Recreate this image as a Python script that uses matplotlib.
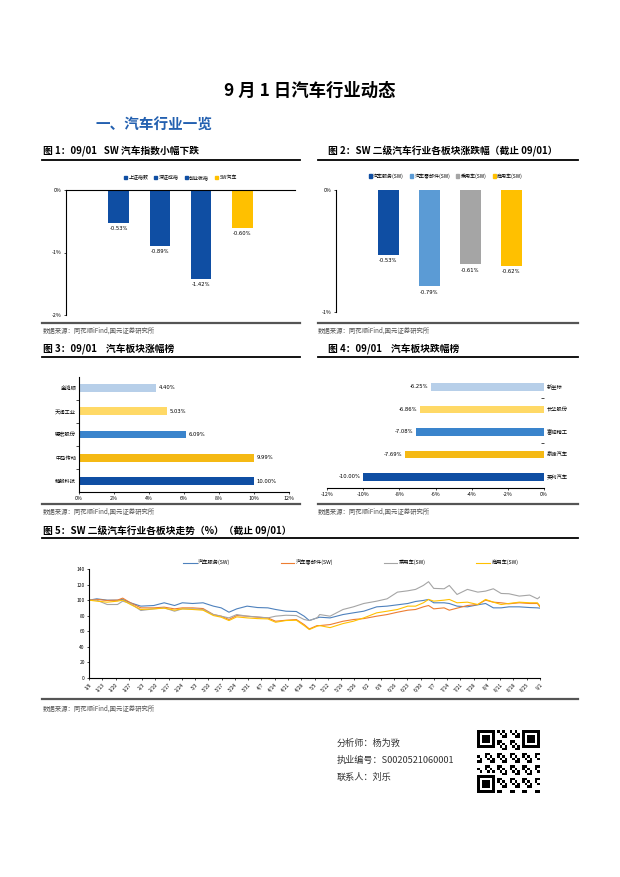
import matplotlib

matplotlib.use("Agg")
import matplotlib.pyplot as plt
import numpy as np
from matplotlib.lines import Line2D
from matplotlib.patches import Rectangle

plt.rcParams["font.family"] = ["Noto Sans CJK SC", "DejaVu Sans"]
plt.rcParams["axes.unicode_minus"] = False

W, H = 620, 877

# fig 1: SW auto index vs broad market (daily change, %)
idx_names = ["上证指数", "深证成指", "创业板指", "SW汽车"]
idx_change = [-0.53, -0.89, -1.42, -0.60]

# fig 2: SW level-2 auto sub-sectors (daily change, %)
sub_names = ["汽车服务(SW)", "汽车零部件(SW)", "乘用车(SW)", "商用车(SW)"]
sub_change = [-0.53, -0.79, -0.61, -0.62]

# fig 3 / fig 4: top gainers and losers (bottom to top)
gain_names = ["精锻科技", "中马传动", "德宏股份", "天润工业", "金鸿顺"]
gain_pct = [10.00, 9.99, 6.09, 5.03, 4.40]
lose_names = ["英利汽车", "泉峰汽车", "富临精工", "长华股份", "新坐标"]
lose_pct = [-10.00, -7.69, -7.08, -6.86, -6.25]

# fig 5: sub-sector trend, rebased to 100 (trading-day index)
trend_days = [0, 3, 7, 11, 13, 16, 20, 25, 29, 33, 36, 40, 44, 48, 51, 54, 57, 61, 65, 69,
              72, 76, 80, 83, 85, 88, 89, 93, 98, 102, 106, 111, 115, 119, 123, 126, 129,
              131, 133, 137, 139, 142, 146, 150, 153, 156, 159, 162, 166, 170, 173, 174]
trend_service = [100, 101.7, 100, 100, 100.9, 96.6, 92.3, 93.1, 96.6, 93.1, 96.6, 95.7, 96.6,
                 92.3, 90.1, 84.5, 88.8, 92.3, 90.5, 90.1, 88.0, 85.8, 85.4, 79.4, 73.8, 77.2,
                 78.1, 77.2, 81.5, 83.7, 85.8, 91.4, 92.3, 94.0, 95.7, 98.3, 99.6, 100.9, 96.6,
                 96.6, 95.7, 92.3, 91.4, 94.0, 95.7, 90.1, 90.1, 91.4, 91.4, 90.5, 90.1, 89.7]
trend_parts = [100, 100.9, 99.6, 100, 102.6, 96.6, 90.1, 90.1, 91.0, 88.8, 90.1, 90.1, 89.2,
               81.5, 79.4, 75.1, 80.2, 79.4, 78.1, 77.2, 72.9, 74.2, 75.1, 68.6, 63.0, 67.3,
               67.3, 68.6, 72.9, 75.1, 76.3, 79.4, 81.5, 84.5, 87.1, 88.0, 91.4, 93.1, 88.8,
               90.1, 87.1, 89.7, 93.1, 94.4, 100, 97.4, 96.6, 95.3, 96.6, 95.7, 95.7, 91.4]
trend_car = [100, 100, 94.4, 94.4, 98.7, 95.7, 86.7, 88.8, 90.1, 85.8, 88.8, 88.8, 88.0,
             81.5, 79.4, 77.2, 81.5, 79.4, 78.5, 77.2, 79.4, 80.6, 80.2, 75.1, 73.8, 77.2,
             81.5, 79.4, 88.0, 91.4, 95.7, 98.7, 101.7, 110.3, 112.0, 113.8, 118.9, 123.7, 115.1,
             114.6, 118.9, 107.3, 113.8, 110.3, 111.6, 114.6, 108.6, 108.2, 105.2, 106.5, 101.7, 104.3]
trend_truck = [100, 98.7, 97.4, 98.7, 100, 94.4, 88.0, 88.8, 89.7, 87.1, 88.8, 88.0, 87.1,
               80.2, 78.1, 73.8, 78.5, 77.2, 76.3, 75.9, 71.6, 73.8, 74.2, 67.3, 62.2, 66.5,
               67.3, 64.7, 69.9, 72.9, 77.2, 83.7, 85.8, 88.0, 92.3, 92.3, 96.6, 100.9, 98.7,
               100, 100.9, 96.6, 97.4, 94.4, 100.9, 97.4, 94.4, 95.7, 97.4, 96.6, 96.6, 92.3]
trend_ticks = ["1/6", "1/13", "1/20", "1/27", "2/3", "2/10", "2/17", "2/24", "3/3", "3/10",
               "3/17", "3/24", "3/31", "4/7", "4/14", "4/21", "4/28", "5/5", "5/12", "5/19",
               "5/26", "6/2", "6/9", "6/16", "6/23", "6/30", "7/7", "7/14", "7/21", "7/28",
               "8/4", "8/11", "8/18", "8/25", "9/1"]

SOURCE = "数据来源：同花顺iFind,国元证券研究所"
NUM_FONT = ["DejaVu Sans"]


def box(x0, y0, x1, y1):
    return [x0 / W, 1 - y1 / H, (x1 - x0) / W, (y1 - y0) / H]


def ftext(x, y, s, **kw):
    fig.text(x / W, 1 - y / H, s, **kw)


def hline(x0, x1, y, lw, color):
    fig.add_artist(Line2D([x0 / W, x1 / W], [1 - y / H, 1 - y / H], lw=lw, color=color))


fig = plt.figure(figsize=(W / 100, H / 100), dpi=100)

# page headings
ftext(310, 91, "9 月 1 日汽车行业动态", ha="center", va="center", fontsize=12.5, fontweight="bold")
ftext(95, 125, "一、汽车行业一览", ha="left", va="center", fontsize=10.5, fontweight="bold",
      color="#2360b0")

cap = dict(ha="left", va="center", fontsize=7, fontweight="bold")
src = dict(ha="left", va="center", fontsize=4.6, color="#555555")
ftext(43, 151, "图 1：09/01   SW 汽车指数小幅下跌", **cap)
ftext(328, 151, "图 2：SW 二级汽车行业各板块涨跌幅（截止 09/01）", **cap)
ftext(43, 349, "图 3：09/01    汽车板块涨幅榜", **cap)
ftext(328, 349, "图 4：09/01    汽车板块跌幅榜", **cap)
ftext(43, 531, "图 5：SW 二级汽车行业各板块走势（%）（截止 09/01）", **cap)
for y, xs in ((160, ((42, 300), (318, 578))), (357, ((42, 300), (318, 578))), (538, ((42, 578),))):
    for x0, x1 in xs:
        hline(x0, x1, y, 1.3, "black")
for y, xs in ((323, ((42, 300), (318, 578))), (504, ((42, 300), (318, 578))), (699, ((42, 578),))):
    for x0, x1 in xs:
        hline(x0, x1, y, 1.6, "#555555")
ftext(43, 331, SOURCE, **src)
ftext(318, 331, SOURCE, **src)
ftext(43, 512, SOURCE, **src)
ftext(318, 512, SOURCE, **src)
ftext(43, 709, SOURCE, **src)

tick_kw = dict(labelsize=3.8, length=1.5, width=0.5, pad=1.5)

# fig 1
ax1 = fig.add_axes(box(66, 190, 295, 315))
c1 = ["#0f4ea3", "#0f4ea3", "#0f4ea3", "#ffc000"]
x1 = np.arange(len(idx_names))
ax1.bar(x1, idx_change, width=0.51, color=c1)
for i, v in enumerate(idx_change):
    ax1.text(i, v - 0.05, f"{v:.2f}%", ha="center", va="top", fontsize=3.8, family=NUM_FONT)
ax1.set_xlim(-1.29, 4.29)
ax1.set_ylim(-2, 0)
ax1.set_yticks([0, -1, -2])
ax1.set_yticklabels(["0%", "-1%", "-2%"])
ax1.set_xticks([])
ax1.tick_params(**tick_kw)
for s in ("right", "bottom"):
    ax1.spines[s].set_visible(False)
for s in ("left", "top"):
    ax1.spines[s].set_linewidth(0.8)
h1 = [Rectangle((0, 0), 1, 1, color=c) for c in c1]
ax1.legend(h1, idx_names, loc="center", bbox_to_anchor=(0.5, 1.1), ncol=4, frameon=False,
           fontsize=3.6, handlelength=0.6, handleheight=0.6, handletextpad=0.3, columnspacing=1.2)

# fig 2
ax2 = fig.add_axes(box(336, 190, 580, 312))
c2 = ["#0f4ea3", "#5b9bd5", "#a5a5a5", "#ffc000"]
x2 = np.arange(len(sub_names))
ax2.bar(x2, sub_change, width=0.51, color=c2)
for i, v in enumerate(sub_change):
    ax2.text(i, v - 0.03, f"{v:.2f}%", ha="center", va="top", fontsize=3.8, family=NUM_FONT)
ax2.set_xlim(-1.27, 4.68)
ax2.set_ylim(-1, 0)
ax2.set_yticks([0, -1])
ax2.set_yticklabels(["0%", "-1%"])
ax2.set_xticks([])
ax2.tick_params(**tick_kw)
for s in ("right", "bottom", "top"):
    ax2.spines[s].set_visible(False)
ax2.spines["left"].set_linewidth(0.8)
h2 = [Rectangle((0, 0), 1, 1, color=c) for c in c2]
ax2.legend(h2, sub_names, loc="center", bbox_to_anchor=(0.45, 1.115), ncol=4, frameon=False,
           fontsize=3.6, handlelength=0.6, handleheight=0.6, handletextpad=0.3, columnspacing=1.2)

# fig 3 / fig 4 colours (bottom to top)
c34 = ["#0f4ea3", "#f5b914", "#3a84cc", "#ffd966", "#b7cfe9"]

ax3 = fig.add_axes(box(79, 377, 289, 492))
y3 = np.arange(len(gain_names))
ax3.barh(y3, gain_pct, height=0.32, color=c34)
for i, v in enumerate(gain_pct):
    ax3.text(v + 0.15, i, f"{v:.2f}%", ha="left", va="center", fontsize=3.8, family=NUM_FONT)
ax3.set_xlim(0, 12)
ax3.set_ylim(-0.47, 4.47)
ax3.set_xticks(range(0, 13, 2))
ax3.set_xticklabels([f"{t}%" for t in range(0, 13, 2)])
ax3.set_yticks(y3)
ax3.set_yticklabels(gain_names)
ax3.set_yticks(np.arange(0.5, 4.0, 1.0), minor=True)
ax3.tick_params(axis="y", which="major", length=0, labelsize=3.8, pad=2)
ax3.tick_params(axis="y", which="minor", length=2, width=0.5)
ax3.tick_params(axis="x", **tick_kw)
for s in ("right", "top"):
    ax3.spines[s].set_visible(False)
for s in ("left", "bottom"):
    ax3.spines[s].set_linewidth(0.8)

ax4 = fig.add_axes(box(327, 377, 544, 488))
y4 = np.arange(len(lose_names))
ax4.barh(y4, lose_pct, height=0.34, color=c34)
for i, v in enumerate(lose_pct):
    ax4.text(v - 0.15, i, f"{v:.2f}%", ha="right", va="center", fontsize=3.8, family=NUM_FONT)
ax4.set_xlim(-12, 0)
ax4.set_ylim(-0.49, 4.44)
ax4.set_xticks(range(-12, 1, 2))
ax4.set_xticklabels([f"{t}%" for t in range(-12, 1, 2)])
ax4.yaxis.tick_right()
ax4.set_yticks(y4)
ax4.set_yticklabels(lose_names)
ax4.set_yticks([1.5, 3.5], minor=True)
ax4.tick_params(axis="y", which="major", length=0, labelsize=3.8, pad=2)
ax4.tick_params(axis="y", which="minor", length=2, width=0.5, direction="in")
ax4.tick_params(axis="x", **tick_kw)
for s in ("right", "top", "left"):
    ax4.spines[s].set_visible(False)
ax4.spines["bottom"].set_linewidth(0.8)

# fig 5
ax5 = fig.add_axes(box(89, 569, 540, 678))
series = [(trend_service, "#4e81bd", "汽车服务(SW)"), (trend_parts, "#ed7d31", "汽车零部件(SW)"),
          (trend_car, "#a5a5a5", "乘用车(SW)"), (trend_truck, "#ffc000", "商用车(SW)")]
for vals, color, name in series:
    ax5.plot(trend_days, vals, color=color, lw=0.8, label=name)
ax5.set_xlim(0, 174)
ax5.set_ylim(0, 140)
ax5.set_yticks(range(0, 141, 20))
ax5.set_xticks(np.linspace(0, 174, len(trend_ticks)))
ax5.set_xticklabels(trend_ticks, rotation=45, ha="right", rotation_mode="anchor")
ax5.tick_params(axis="both", labelsize=3.5, length=1.5, width=0.5, pad=1.5)
for s in ("right", "top"):
    ax5.spines[s].set_visible(False)
for s in ("left", "bottom"):
    ax5.spines[s].set_linewidth(0.8)
ax5.legend(loc="center", bbox_to_anchor=(0.58, 1.06), ncol=4, frameon=False, fontsize=3.8,
           handlelength=2.6, handletextpad=0.3, columnspacing=9.5)

# analyst block
info = dict(ha="left", va="center", fontsize=6.6, color="#333333")
ftext(337, 743, "分析师：杨为敩", **info)
ftext(337, 760, "执业编号：S0020521060001", **info)
ftext(337, 777, "联系人：刘乐", **info)

# QR code placeholder
axq = fig.add_axes(box(477, 730, 540, 793))
n = 25
ii, jj = np.meshgrid(np.arange(n), np.arange(n))
grid = ((ii * 7 + jj * 3 + ii * jj) % 5 < 2).astype(float)
for r0, c0 in ((0, 0), (0, n - 7), (n - 7, 0)):
    grid[r0:r0 + 7, c0:c0 + 7] = 1
    grid[r0 + 1:r0 + 6, c0 + 1:c0 + 6] = 0
    grid[r0 + 2:r0 + 5, c0 + 2:c0 + 5] = 1
    rs, re = max(r0 - 1, 0), min(r0 + 8, n)
    cs, ce = max(c0 - 1, 0), min(c0 + 8, n)
    sub = grid[rs:re, cs:ce]
    mask = np.ones_like(sub, dtype=bool)
    mask[r0 - rs:r0 - rs + 7, c0 - cs:c0 - cs + 7] = False
    sub[mask] = 0
axq.imshow(grid, cmap="Greys", interpolation="nearest")
axq.axis("off")

fig.savefig("out.png", dpi=100)
